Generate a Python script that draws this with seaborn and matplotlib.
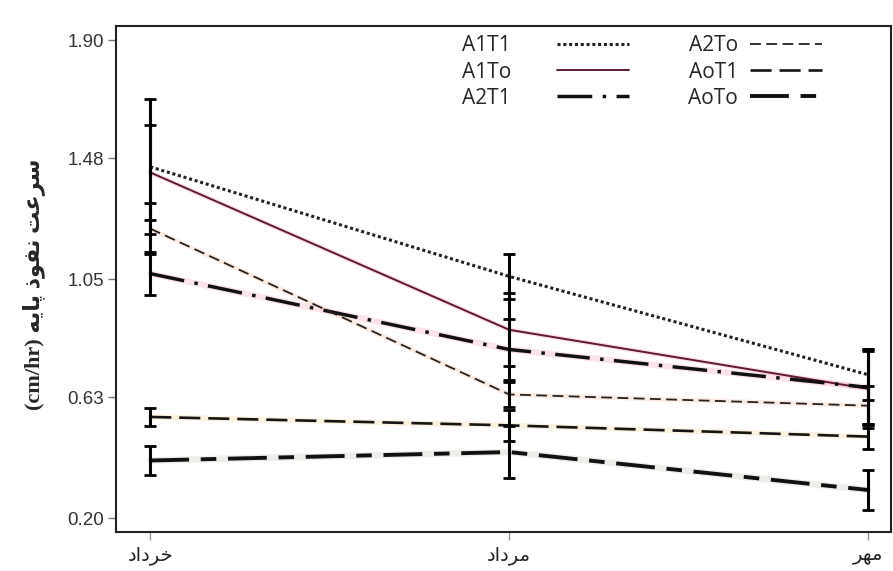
import matplotlib
matplotlib.use("Agg")
import pandas as pd
import seaborn as sns
import matplotlib.pyplot as plt

# Persian month names (خرداد, مرداد, مهر) written as Arabic presentation forms
# in visual order, because matplotlib does not shape right-to-left text itself
months = ["\uFEA9\uFE8D\uFEA9\uFEAE\uFEA7", "\uFEA9\uFE8D\uFEA9\uFEAE\uFEE3", "\uFEAE\uFEEC\uFEE3"]

treatments = ["A1T1", "A1To", "A2T1", "A2To", "AoT1", "AoTo"]

# mean basic infiltration rate (cm/hr) for each month
a1t1 = [1.45, 1.06, 0.71]
a1to = [1.43, 0.87, 0.66]
a2t1 = [1.07, 0.80, 0.665]
a2to = [1.23, 0.64, 0.60]
aot1 = [0.56, 0.53, 0.49]
aoto = [0.405, 0.435, 0.30]

# error bar half widths
a1t1_err = [0.24, 0.08, 0.09]
a1to_err = [0.17, 0.13, 0.14]
a2t1_err = [0.076, 0.11, 0.13]
a2to_err = [0.09, 0.045, 0.07]
aot1_err = [0.033, 0.055, 0.045]
aoto_err = [0.05, 0.093, 0.07]

yticks = [0.20, 0.63, 1.05, 1.48, 1.90]

# "سرعت نفوذ پایه (cm/hr)" in visual order
ylabel = ("(cm/hr) " + "\uFEEA\uFBFE\uFE8E\uFB58" + " " + "\uFEAB\uFEEE\uFED4\uFEE7"
          + " " + "\uFE96\uFECB\uFEAE\uFEB3")

means = [a1t1, a1to, a2t1, a2to, aot1, aoto]
errs = [a1t1_err, a1to_err, a2t1_err, a2to_err, aot1_err, aoto_err]

rows = []
for t, m, e in zip(treatments, means, errs):
    for month, v, err in zip(months, m, e):
        rows.append({"treatment": t, "month": month, "rate": v, "err": err})
df = pd.DataFrame(rows)

styles = {
    "A1T1": dict(ls=(0, (1, 0.9)), lw=2.2, color="#222222", halo=None),
    "A1To": dict(ls="-", lw=1.4, color="#5e1830", halo="#f2a0b0"),
    "A2T1": dict(ls=(0, (10, 3, 1, 3)), lw=2.5, color="#111111", halo="#f4a8b8"),
    "A2To": dict(ls=(0, (6, 3)), lw=1.3, color="#222222", halo="#f6c0a0"),
    "AoT1": dict(ls=(0, (8, 3)), lw=1.9, color="#151515", halo="#f7d49a"),
    "AoTo": dict(ls=(0, (10, 3, 4, 3)), lw=2.8, color="#111111", halo="#c3cbb8"),
}

sns.set_style("ticks")
plt.rcParams["font.family"] = ["Liberation Sans", "DejaVu Sans"]

fig = plt.figure(figsize=(8.93, 5.71), dpi=100)
ax = fig.add_axes([0.13, 0.068, 0.868, 0.886])

handles = {}
for t in treatments:
    sub = df[df["treatment"] == t]
    st = styles[t]
    if st["halo"]:
        sns.lineplot(data=sub, x="month", y="rate", ax=ax, sort=False, color=st["halo"],
                     linewidth=st["lw"] + 2, alpha=0.3, zorder=1)
    sns.lineplot(data=sub, x="month", y="rate", ax=ax, sort=False, color=st["color"],
                 linewidth=st["lw"], linestyle=st["ls"], zorder=2)
    handles[t] = ax.lines[-1]
    ax.errorbar(sub["month"], sub["rate"], yerr=sub["err"], fmt="none", ecolor="black",
                elinewidth=2.2, capsize=4, capthick=2, zorder=4)

ax.set_xlim(-0.095, 2.064)
ax.set_ylim(0.15, 1.95)
ax.set_yticks(yticks)
ax.set_yticklabels([f"{v:.2f}" for v in yticks], fontsize=13.5, color="#333333")
ax.set_xticks(range(len(months)))
ax.set_xticklabels(months, fontsize=14, color="#222222", family="DejaVu Sans")
ax.tick_params(axis="y", length=5.5, width=1, color="#777777", pad=3)
ax.tick_params(axis="x", length=6, width=1, color="#999999", pad=4)
ax.set_xlabel("")
ax.set_ylabel(ylabel, fontsize=16, fontweight="bold",
              family=["Liberation Serif", "DejaVu Sans"])
ax.yaxis.set_label_coords(-0.092, 0.49)

for s in ax.spines.values():
    s.set_color("#222222")
    s.set_linewidth(1.5)

leg_kw = dict(frameon=False, markerfirst=False, loc="upper left", borderpad=0,
              borderaxespad=0, handlelength=3.45, labelspacing=0.25,
              prop={"family": "Open Sans", "size": 15})
leg1 = ax.legend([handles[t] for t in treatments[:3]], treatments[:3],
                 bbox_to_anchor=(0.446, 0.982), handletextpad=2.2, **leg_kw)
ax.add_artist(leg1)
ax.legend([handles[t] for t in treatments[3:]], treatments[3:],
          bbox_to_anchor=(0.738, 0.982), handletextpad=0.6, **leg_kw)

fig.savefig("out.png", dpi=100)
